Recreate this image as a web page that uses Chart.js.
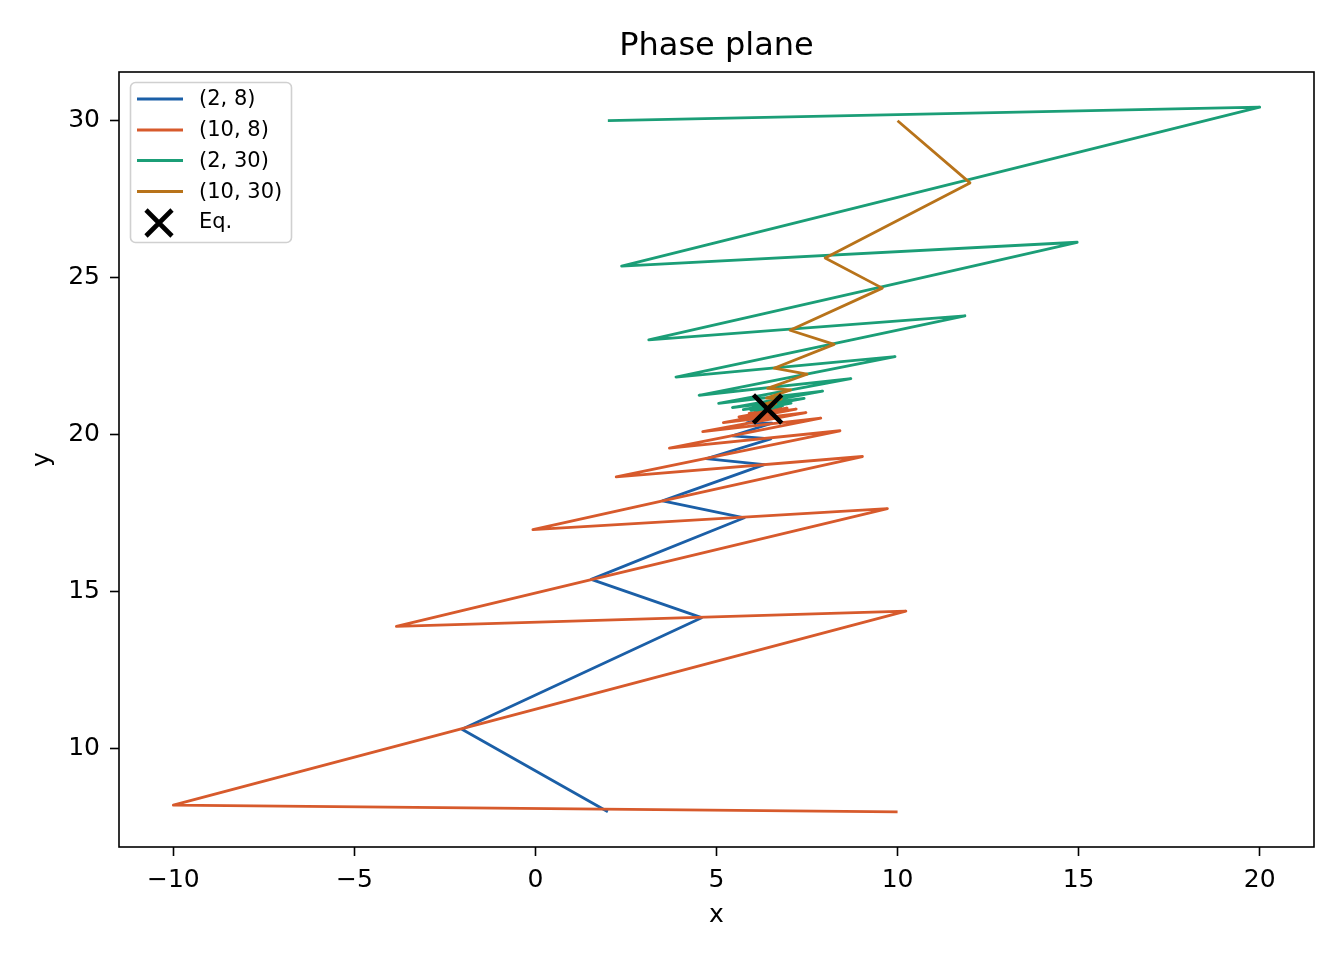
<!DOCTYPE html>
<html>
<head>
<meta charset="utf-8">
<script src="https://cdn.jsdelivr.net/npm/chart.js@4.4.1/dist/chart.umd.min.js"></script>
<style>
html,body{margin:0;padding:0;background:#ffffff;}
#wrap{width:1344px;height:960px;}
canvas{display:block;}
</style>
</head>
<body>
<div id="wrap"><canvas id="c" width="1344" height="960"></canvas></div>
<script>
// ---- data ----
const seriesLabels = ['(2, 8)', '(10, 8)', '(2, 30)', '(10, 30)', 'Eq.'];

const blueX = [2, -2.03, 4.59, 1.54, 5.77, 3.51, 6.32, 4.71, 6.50, 5.44, 6.53, 5.84, 6.54, 6.07, 6.52, 6.20, 6.50, 6.28, 6.47, 6.33];
const blueY = [8, 10.63, 14.18, 15.40, 17.36, 17.90, 19.05, 19.24, 19.87, 19.97, 20.37, 20.38, 20.61, 20.59, 20.72, 20.70, 20.78, 20.77, 20.81, 20.80];

const redX = [10, -10, 10.23, -3.84, 9.72, -0.07, 9.03, 2.23, 8.41, 3.70, 7.88, 4.62, 7.47, 5.19, 7.20, 5.62, 6.95, 5.90, 6.78, 6.07, 6.66, 6.19, 6.58];
const redY = [8, 8.21, 14.39, 13.90, 17.65, 16.98, 19.31, 18.66, 20.13, 19.58, 20.53, 20.10, 20.71, 20.39, 20.82, 20.57, 20.85, 20.68, 20.85, 20.73, 20.85, 20.77, 20.84];

const greenX = [2, 20, 2.38, 14.96, 3.13, 11.86, 3.88, 9.93, 4.52, 8.71, 5.06, 7.93, 5.44, 7.42, 5.74, 7.06, 5.95, 6.83, 6.10, 6.69, 6.22, 6.60];
const greenY = [30, 30.43, 25.37, 26.13, 23.02, 23.79, 21.84, 22.49, 21.26, 21.79, 21.00, 21.39, 20.87, 21.16, 20.80, 21.01, 20.78, 20.93, 20.79, 20.89, 20.81, 20.86];

const brownX = [10, 12, 8, 9.58, 7.03, 8.25, 6.59, 7.50, 6.41, 7.05, 6.38, 6.79, 6.35, 6.64, 6.35, 6.55, 6.36, 6.50];
const brownY = [30, 28.02, 25.63, 24.67, 23.33, 22.88, 22.12, 21.93, 21.48, 21.43, 21.17, 21.14, 20.99, 20.99, 20.90, 20.91, 20.86, 20.87];

const eqX = [6.41];
const eqY = [20.82];

const xTicks = [-10, -5, 0, 5, 10, 15, 20];
const yTicks = [10, 15, 20, 25, 30];
const xRange = [-11.5, 21.5];
const yRange = [6.88, 31.55];

const colors = ['#1b5fa7', '#d75a2c', '#1b9e77', '#b8731a', '#000000'];

// ---- chart ----
const FONT = "'DejaVu Sans', 'Liberation Sans', sans-serif";
Chart.defaults.font.family = FONT;
Chart.defaults.color = '#000000';

function pts(xs, ys) { return xs.map((x, i) => ({x: x, y: ys[i]})); }
function fmt(v) { return v < 0 ? '\u2212' + (-v) : String(v); }

function lineSet(i, xs, ys, order) {
  return {
    label: seriesLabels[i],
    data: pts(xs, ys),
    showLine: true,
    borderColor: colors[i],
    backgroundColor: colors[i],
    borderWidth: 2.8,
    borderJoinStyle: 'round',
    pointRadius: 0,
    pointHoverRadius: 0,
    tension: 0,
    order: order
  };
}

const framePlugin = {
  id: 'frame',
  afterDatasetsDraw(chart) {
    const ctx = chart.ctx, a = chart.chartArea;
    ctx.save();
    ctx.strokeStyle = '#000';
    ctx.lineWidth = 1.6;
    ctx.strokeRect(a.left, a.top, a.right - a.left, a.bottom - a.top);
    ctx.restore();
  }
};

const legendPlugin = {
  id: 'boxLegend',
  afterDraw(chart) {
    const ctx = chart.ctx;
    const bx = 130.5, by = 82.5, bw = 161, bh = 160, r = 5;
    ctx.save();
    ctx.beginPath();
    ctx.moveTo(bx + r, by);
    ctx.arcTo(bx + bw, by, bx + bw, by + bh, r);
    ctx.arcTo(bx + bw, by + bh, bx, by + bh, r);
    ctx.arcTo(bx, by + bh, bx, by, r);
    ctx.arcTo(bx, by, bx + bw, by, r);
    ctx.closePath();
    ctx.fillStyle = 'rgba(255,255,255,0.8)';
    ctx.fill();
    ctx.strokeStyle = '#d0d0d0';
    ctx.lineWidth = 1.6;
    ctx.stroke();
    const rows = [100, 131, 161.5, 192.5, 223];
    chart.data.datasets.forEach((ds, i) => {
      const y = rows[i];
      ctx.strokeStyle = ds.borderColor;
      if (ds.showLine) {
        ctx.lineWidth = 2.8;
        ctx.beginPath();
        ctx.moveTo(137, y - 1);
        ctx.lineTo(183, y - 1);
        ctx.stroke();
      } else {
        ctx.lineWidth = 4.6;
        ctx.beginPath();
        ctx.moveTo(146, y - 13); ctx.lineTo(172, y + 13);
        ctx.moveTo(146, y + 13); ctx.lineTo(172, y - 13);
        ctx.stroke();
      }
      ctx.fillStyle = '#000';
      ctx.font = '21px ' + FONT;
      ctx.textBaseline = 'middle';
      ctx.textAlign = 'left';
      ctx.fillText(ds.label, 199, y);
    });
    ctx.restore();
  }
};

new Chart(document.getElementById('c'), {
  type: 'scatter',
  data: {
    datasets: [
      lineSet(0, blueX, blueY, 5),
      lineSet(1, redX, redY, 4),
      lineSet(2, greenX, greenY, 3),
      lineSet(3, brownX, brownY, 2),
      {
        label: seriesLabels[4],
        data: pts(eqX, eqY),
        showLine: false,
        pointStyle: 'crossRot',
        pointRadius: 20,
        pointHoverRadius: 20,
        borderWidth: 4.6,
        borderColor: colors[4],
        backgroundColor: colors[4],
        order: 0
      }
    ]
  },
  options: {
    responsive: false,
    devicePixelRatio: 1,
    animation: false,
    events: [],
    layout: {padding: {left: 0, right: 30, top: 0, bottom: 0}},
    plugins: {
      legend: {display: false},
      tooltip: {enabled: false},
      title: {
        display: true,
        fullSize: false,
        text: 'Phase plane',
        color: '#000',
        font: {size: 32, weight: 'normal', family: FONT, lineHeight: 1.2},
        padding: {top: 27, bottom: 6.6}
      }
    },
    scales: {
      x: {
        type: 'linear',
        min: xRange[0], max: xRange[1],
        afterBuildTicks: s => { s.ticks = xTicks.map(v => ({value: v})); },
        afterFit: s => { s.height = 113; },
        ticks: {callback: v => fmt(v), font: {size: 25}, color: '#000', padding: 9, maxRotation: 0, autoSkip: false},
        grid: {display: true, drawOnChartArea: false, drawTicks: true, tickLength: 9, tickWidth: 1.6, tickColor: '#000'},
        border: {display: false},
        title: {display: true, text: 'x', color: '#000', font: {size: 25, lineHeight: 1.2}, padding: {top: 0, bottom: 30}}
      },
      y: {
        type: 'linear',
        min: yRange[0], max: yRange[1],
        afterBuildTicks: s => { s.ticks = yTicks.map(v => ({value: v})); },
        afterFit: s => { s.width = 119; },
        ticks: {callback: v => fmt(v), font: {size: 25}, color: '#000', padding: 10, autoSkip: false},
        grid: {display: true, drawOnChartArea: false, drawTicks: true, tickLength: 9, tickWidth: 1.6, tickColor: '#000'},
        border: {display: false},
        title: {display: true, text: 'y', color: '#000', font: {size: 25, lineHeight: 1.2}, padding: {top: 27, bottom: 0}}
      }
    }
  },
  plugins: [framePlugin, legendPlugin]
});
</script>
</body>
</html>
